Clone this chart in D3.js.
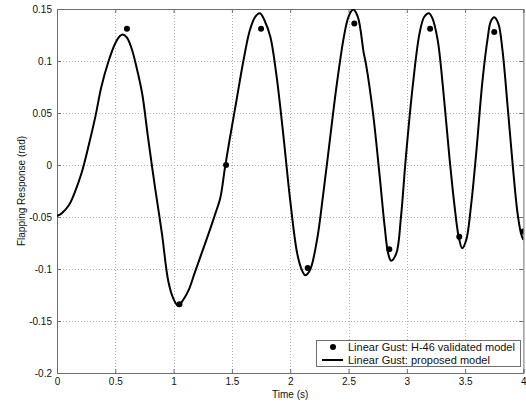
<!DOCTYPE html>
<html>
<head>
<meta charset="utf-8">
<script src="https://cdn.jsdelivr.net/npm/d3@7"></script>
<style>
  body { margin: 0; background: #fff; }
  svg text { font-family: "Liberation Sans", Arial, sans-serif; fill: #111; }
</style>
</head>
<body>
<div id="chart"></div>
<script>
// proposed model (line)
const lineTime = [0.00, 0.04, 0.10, 0.15, 0.21, 0.27, 0.33, 0.38, 0.44, 0.50, 0.54, 0.565, 0.60, 0.64, 0.68, 0.73, 0.78, 0.84, 0.90, 0.955,
  1.00, 1.04, 1.08, 1.13, 1.18, 1.24, 1.30, 1.36, 1.40, 1.44, 1.48, 1.54, 1.60, 1.655, 1.70, 1.74, 1.78, 1.83, 1.88, 1.94,
  2.00, 2.06, 2.10, 2.13, 2.17, 2.23, 2.28, 2.34, 2.40, 2.46, 2.50, 2.54, 2.58, 2.63, 2.65, 2.71, 2.765, 2.81, 2.84, 2.865, 2.91, 2.95, 2.99,
  3.05, 3.11, 3.15, 3.19, 3.22, 3.265, 3.31, 3.365, 3.41, 3.445, 3.475, 3.51, 3.55, 3.595, 3.65, 3.695, 3.72, 3.75, 3.785, 3.82, 3.865, 3.91, 3.95, 3.98, 4.00];
const lineValue = [-0.049, -0.0465, -0.039, -0.027, -0.008, 0.018, 0.047, 0.075, 0.099, 0.117, 0.124, 0.1255, 0.1225, 0.112, 0.095, 0.069, 0.027, -0.021, -0.066, -0.112,
  -0.129, -0.1355, -0.130, -0.120, -0.104, -0.085, -0.066, -0.046, -0.032, -0.003, 0.024, 0.0625, 0.101, 0.130, 0.1425, 0.146, 0.139, 0.123, 0.088, 0.030,
  -0.034, -0.085, -0.101, -0.106, -0.101, -0.072, -0.031, 0.024, 0.078, 0.123, 0.1425, 0.1495, 0.1425, 0.108, 0.097, 0.050, -0.008, -0.059, -0.085, -0.092, -0.085, -0.050, 0.005,
  0.075, 0.127, 0.1425, 0.146, 0.141, 0.120, 0.075, 0.008, -0.040, -0.069, -0.080, -0.072, -0.040, 0.011, 0.082, 0.123, 0.138, 0.142, 0.136, 0.111, 0.056, -0.002, -0.0465, -0.066, -0.072];

// H-46 validated model (dots)
const dotTime = [0.60, 1.05, 1.45, 1.75, 2.15, 2.55, 2.85, 3.20, 3.45, 3.75, 4.00];
const dotValue = [0.131, -0.134, 0.000, 0.131, -0.099, 0.136, -0.081, 0.131, -0.069, 0.128, -0.064];

const xTicks = [0, 0.5, 1, 1.5, 2, 2.5, 3, 3.5, 4];
const yTicks = [-0.2, -0.15, -0.1, -0.05, 0, 0.05, 0.1, 0.15];
const legendLabels = ["Linear Gust: H-46 validated model", "Linear Gust: proposed model"];

const width = 526, height = 402;
const plotLeft = 57, plotRight = 523.4, plotTop = 9, plotBottom = 373;

const svg = d3.select("#chart").append("svg")
  .attr("width", width).attr("height", height);

const x = d3.scaleLinear().domain([0, 4]).range([plotLeft, plotRight]);
const y = d3.scaleLinear().domain([-0.2, 0.15]).range([plotBottom, plotTop]);

svg.append("defs").append("clipPath").attr("id", "plotClip")
  .append("rect").attr("x", plotLeft).attr("y", plotTop)
  .attr("width", plotRight - plotLeft).attr("height", plotBottom - plotTop);

// grid
const grid = svg.append("g").attr("stroke", "#b0b0b0").attr("stroke-width", 1)
  .attr("stroke-dasharray", "1,2").attr("shape-rendering", "crispEdges");
xTicks.slice(1, -1).forEach(t => {
  grid.append("line").attr("x1", Math.round(x(t)) + 0.5).attr("x2", Math.round(x(t)) + 0.5)
    .attr("y1", plotTop).attr("y2", plotBottom);
});
yTicks.slice(1, -1).forEach(t => {
  grid.append("line").attr("y1", Math.round(y(t)) + 0.5).attr("y2", Math.round(y(t)) + 0.5)
    .attr("x1", plotLeft).attr("x2", plotRight);
});

// axes with inward ticks
const fmt = d => String(+d.toFixed(2));
const xAxis = svg.append("g").attr("transform", `translate(0,${plotBottom})`)
  .call(d3.axisBottom(x).tickValues(xTicks).tickSize(-4).tickPadding(5).tickFormat(fmt));
const yAxis = svg.append("g").attr("transform", `translate(${plotLeft},0)`)
  .call(d3.axisLeft(y).tickValues(yTicks).tickSize(-4).tickPadding(5).tickFormat(fmt));
const xTop = svg.append("g").attr("transform", `translate(0,${plotTop})`)
  .call(d3.axisTop(x).tickValues(xTicks).tickSize(-4).tickFormat(""));
const yRight = svg.append("g").attr("transform", `translate(${plotRight},0)`)
  .call(d3.axisRight(y).tickValues(yTicks).tickSize(-4).tickFormat(""));
[xAxis, yAxis, xTop, yRight].forEach(g => {
  g.selectAll("path").attr("stroke", "#6e6e6e");
  g.selectAll("line").attr("stroke", "#6e6e6e");
  g.selectAll("text").attr("font-size", "10px").attr("fill", "#111")
    .attr("font-family", "Liberation Sans, Arial, sans-serif");
});

// line
const line = d3.line().x(i => x(lineTime[i])).y(i => y(lineValue[i])).curve(d3.curveCatmullRom);
svg.append("path")
  .attr("clip-path", "url(#plotClip)")
  .attr("d", line(d3.range(lineTime.length)))
  .attr("fill", "none").attr("stroke", "#000").attr("stroke-width", 2);

// dots
svg.append("g").attr("clip-path", "url(#plotClip)")
  .selectAll("circle").data(d3.range(dotTime.length)).join("circle")
  .attr("cx", i => x(dotTime[i])).attr("cy", i => y(dotValue[i]))
  .attr("r", 3).attr("fill", "#000");

// axis titles
svg.append("text").attr("x", (plotLeft + plotRight) / 2).attr("y", 398)
  .attr("text-anchor", "middle").attr("font-size", "10px").text("Time (s)");
svg.append("text").attr("transform", `translate(24.5,${(plotTop + plotBottom) / 2}) rotate(-90)`)
  .attr("text-anchor", "middle").attr("font-size", "10px").text("Flapping Response (rad)");

// legend
const lg = svg.append("g");
lg.append("rect").attr("x", 316.5).attr("y", 340.5).attr("width", 204).attr("height", 26)
  .attr("fill", "#fff").attr("stroke", "#6e6e6e").attr("stroke-width", 1);
lg.append("circle").attr("cx", 333).attr("cy", 347).attr("r", 3).attr("fill", "#000");
lg.append("line").attr("x1", 322).attr("x2", 343).attr("y1", 360).attr("y2", 360)
  .attr("stroke", "#000").attr("stroke-width", 2);
legendLabels.forEach((t, i) => {
  lg.append("text").attr("x", 348).attr("y", 350.8 + i * 13.2)
    .attr("font-size", "11px").text(t);
});
</script>
</body>
</html>
